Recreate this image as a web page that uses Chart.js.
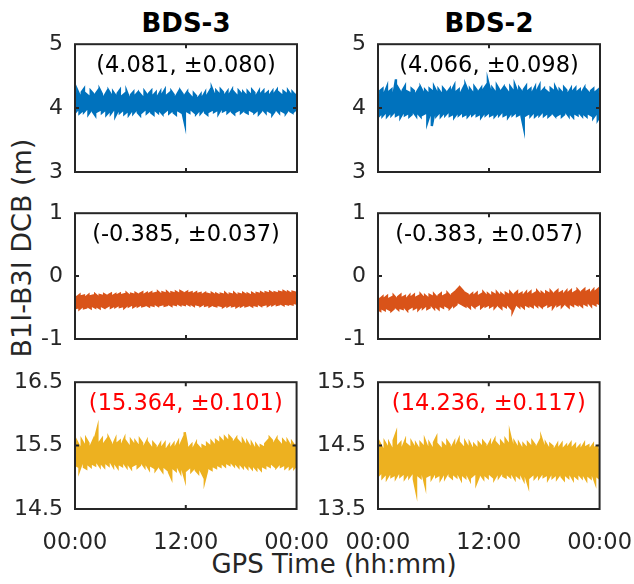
<!DOCTYPE html>
<html>
<head>
<meta charset="utf-8">
<script src="https://cdn.jsdelivr.net/npm/chart.js@4.4.0/dist/chart.umd.min.js"></script>
<style>
  body { margin: 0; background: #fff; }
  #fig { position: relative; width: 634px; height: 584px; overflow: hidden; font-family: 'DejaVu Sans', sans-serif; color: #262626; }
  canvas { position: absolute; }
  .lbl { position: absolute; white-space: nowrap; line-height: 1; transform: translate(-50%, -50%); }
  .title { font-weight: bold; font-size: 26px; color: #000; }
</style>
</head>
<body>
<div id="fig">
  <div class="lbl title" style="left:186px; top:23px;">BDS-3</div>
  <div class="lbl title" style="left:489px; top:23px;">BDS-2</div>
  <div class="lbl" style="left:21px; top:248px; font-size:27px; transform: translate(-50%, -50%) rotate(-90deg);">B1I-B3I DCB (m)</div>
  <div class="lbl" style="left:334px; top:564px; font-size:26px;">GPS Time (hh:mm)</div>
  <canvas id="c1"></canvas>
  <canvas id="c2"></canvas>
  <canvas id="c3"></canvas>
  <canvas id="c4"></canvas>
  <canvas id="c5"></canvas>
  <canvas id="c6"></canvas>
</div>
<script>
// B1I-B3I DCB over one day (hours 0..24).
// Each entry is one time bin: [high, low] of the noisy trace in that bin.
const HOURS = 24;

const bds3Top = [
  [4.24,3.93],[4.28,3.97],[4.20,3.92],[4.25,3.95],[4.30,3.94],[4.22,3.98],[4.19,3.91],[4.27,3.96],[4.23,3.94],[4.21,3.89],
  [4.26,3.95],[4.29,3.97],[4.22,3.93],[4.18,3.96],[4.24,3.90],[4.27,3.94],[4.21,3.92],[4.25,3.97],[4.20,3.88],[4.23,3.95],
  [4.28,3.93],[4.19,3.96],[4.22,3.91],[4.26,3.94],[4.17,3.90],[4.21,3.95],[4.25,3.92],[4.20,3.96],[4.24,3.93],[4.22,3.89],
  [4.18,3.94],[4.26,3.97],[4.21,3.92],[4.23,3.95],[4.27,3.93],[4.20,3.90],[4.24,3.96],[4.19,3.93],[4.25,3.95],[4.22,3.91],
  [4.28,3.94],[4.20,3.97],[4.23,3.92],[4.26,3.95],[4.21,3.93],[4.18,3.90],[4.24,3.96],[4.27,3.94],[4.22,3.92],[4.20,3.76],
  [4.25,3.95],[4.21,3.93],[4.17,3.97],[4.23,3.94],[4.19,3.91],[4.16,3.95],[4.21,3.92],[4.18,3.96],[4.24,3.93],[4.20,3.90],
  [4.26,3.95],[4.31,3.97],[4.22,3.94],[4.27,3.96],[4.23,3.92],[4.29,3.98],[4.25,3.95],[4.21,3.97],[4.26,3.93],[4.22,3.96],
  [4.28,3.94],[4.24,3.91],[4.20,3.95],[4.27,3.97],[4.23,3.93],[4.25,3.96],[4.21,3.94],[4.26,3.92],[4.22,3.97],[4.28,3.95],
  [4.24,3.93],[4.20,3.96],[4.26,3.91],[4.23,3.95],[4.27,3.97],[4.22,3.93],[4.25,3.96],[4.21,3.94],[4.26,3.90],[4.23,3.95],
  [4.28,3.97],[4.24,3.93],[4.21,3.96],[4.26,3.94],[4.23,3.92],[4.27,3.97],[4.22,3.95],[4.25,3.93],[4.21,3.96],[4.24,3.99]
];
const bds2Top = [
  [4.22,3.86],[4.27,3.90],[4.30,3.88],[4.24,3.92],[4.33,3.87],[4.26,3.91],[4.29,3.89],[4.23,3.93],[4.45,3.88],[4.31,3.90],
  [4.25,3.86],[4.28,3.92],[4.34,3.89],[4.26,3.91],[4.24,3.87],[4.30,3.90],[4.27,3.93],[4.23,3.88],[4.29,3.91],[4.32,3.87],
  [4.25,3.90],[4.28,3.92],[4.24,3.78],[4.30,3.89],[4.27,3.72],[4.33,3.90],[4.26,3.88],[4.29,3.92],[4.24,3.87],[4.31,3.91],
  [4.27,3.89],[4.25,3.93],[4.30,3.88],[4.28,3.90],[4.35,3.86],[4.26,3.91],[4.29,3.89],[4.24,3.92],[4.31,3.88],[4.36,3.90],
  [4.27,3.87],[4.30,3.91],[4.25,3.89],[4.33,3.92],[4.28,3.88],[4.26,3.90],[4.31,3.86],[4.29,3.91],[4.34,3.89],[4.42,3.92],
  [4.28,3.88],[4.31,3.90],[4.26,3.87],[4.35,3.91],[4.29,3.89],[4.27,3.93],[4.32,3.88],[4.30,3.90],[4.25,3.86],[4.33,3.91],
  [4.28,3.89],[4.36,3.92],[4.27,3.88],[4.31,3.90],[4.26,3.87],[4.29,3.70],[4.34,3.89],[4.27,3.91],[4.30,3.88],[4.25,3.92],
  [4.32,3.87],[4.28,3.90],[4.35,3.89],[4.26,3.93],[4.30,3.88],[4.27,3.91],[4.24,3.87],[4.31,3.90],[4.28,3.92],[4.33,3.88],
  [4.26,3.89],[4.29,3.91],[4.25,3.87],[4.32,3.90],[4.28,3.93],[4.24,3.88],[4.30,3.90],[4.27,3.86],[4.31,3.91],[4.26,3.89],
  [4.29,3.92],[4.25,3.88],[4.31,3.90],[4.28,3.87],[4.24,3.91],[4.27,3.89],[4.30,3.85],[4.25,3.90],[4.28,3.82],[4.23,3.88]
];
const bds3Mid = [
  [-0.31,-0.51],[-0.33,-0.50],[-0.30,-0.52],[-0.32,-0.49],[-0.31,-0.51],[-0.33,-0.50],[-0.30,-0.49],[-0.32,-0.51],[-0.31,-0.48],[-0.29,-0.50],
  [-0.32,-0.49],[-0.30,-0.51],[-0.31,-0.48],[-0.29,-0.50],[-0.31,-0.49],[-0.30,-0.47],[-0.28,-0.50],[-0.31,-0.48],[-0.29,-0.49],[-0.30,-0.47],
  [-0.28,-0.49],[-0.30,-0.48],[-0.29,-0.50],[-0.27,-0.47],[-0.30,-0.48],[-0.28,-0.46],[-0.29,-0.49],[-0.27,-0.47],[-0.29,-0.48],[-0.28,-0.46],
  [-0.26,-0.48],[-0.29,-0.47],[-0.27,-0.46],[-0.28,-0.48],[-0.26,-0.46],[-0.28,-0.47],[-0.27,-0.45],[-0.25,-0.47],[-0.28,-0.46],[-0.26,-0.45],
  [-0.27,-0.47],[-0.25,-0.46],[-0.28,-0.45],[-0.26,-0.47],[-0.27,-0.45],[-0.25,-0.46],[-0.27,-0.44],[-0.24,-0.46],[-0.26,-0.45],[-0.27,-0.46],
  [-0.25,-0.44],[-0.27,-0.46],[-0.26,-0.45],[-0.28,-0.47],[-0.26,-0.45],[-0.28,-0.46],[-0.27,-0.47],[-0.29,-0.45],[-0.27,-0.47],[-0.28,-0.46],
  [-0.29,-0.48],[-0.27,-0.46],[-0.29,-0.47],[-0.28,-0.48],[-0.30,-0.46],[-0.28,-0.47],[-0.29,-0.49],[-0.27,-0.47],[-0.30,-0.48],[-0.28,-0.46],
  [-0.29,-0.48],[-0.27,-0.47],[-0.30,-0.49],[-0.28,-0.47],[-0.29,-0.48],[-0.27,-0.46],[-0.29,-0.48],[-0.28,-0.47],[-0.30,-0.46],[-0.27,-0.48],
  [-0.29,-0.46],[-0.27,-0.47],[-0.28,-0.45],[-0.26,-0.47],[-0.28,-0.46],[-0.26,-0.45],[-0.27,-0.47],[-0.25,-0.45],[-0.27,-0.46],[-0.26,-0.44],
  [-0.27,-0.46],[-0.25,-0.45],[-0.26,-0.44],[-0.24,-0.46],[-0.26,-0.44],[-0.25,-0.45],[-0.27,-0.44],[-0.25,-0.45],[-0.26,-0.43],[-0.25,-0.44]
];
const bds2Mid = [
  [-0.34,-0.53],[-0.36,-0.55],[-0.33,-0.52],[-0.35,-0.54],[-0.32,-0.51],[-0.36,-0.53],[-0.34,-0.55],[-0.31,-0.52],[-0.35,-0.50],[-0.33,-0.53],
  [-0.30,-0.51],[-0.34,-0.52],[-0.32,-0.50],[-0.35,-0.54],[-0.31,-0.51],[-0.33,-0.49],[-0.30,-0.52],[-0.34,-0.50],[-0.32,-0.53],[-0.29,-0.49],
  [-0.33,-0.51],[-0.31,-0.48],[-0.34,-0.52],[-0.30,-0.50],[-0.32,-0.47],[-0.29,-0.51],[-0.33,-0.49],[-0.31,-0.52],[-0.28,-0.48],[-0.32,-0.50],
  [-0.30,-0.47],[-0.27,-0.49],[-0.31,-0.51],[-0.29,-0.47],[-0.26,-0.48],[-0.23,-0.45],[-0.19,-0.42],[-0.20,-0.44],[-0.24,-0.46],[-0.27,-0.48],
  [-0.29,-0.47],[-0.31,-0.50],[-0.28,-0.46],[-0.30,-0.49],[-0.27,-0.47],[-0.31,-0.45],[-0.29,-0.50],[-0.26,-0.47],[-0.30,-0.48],[-0.28,-0.46],
  [-0.31,-0.49],[-0.27,-0.47],[-0.29,-0.50],[-0.26,-0.46],[-0.30,-0.48],[-0.28,-0.51],[-0.31,-0.47],[-0.27,-0.49],[-0.29,-0.46],[-0.26,-0.50],
  [-0.30,-0.56],[-0.28,-0.48],[-0.25,-0.46],[-0.29,-0.49],[-0.27,-0.47],[-0.30,-0.50],[-0.26,-0.46],[-0.28,-0.48],[-0.25,-0.47],[-0.29,-0.49],
  [-0.27,-0.45],[-0.24,-0.48],[-0.28,-0.46],[-0.26,-0.49],[-0.29,-0.47],[-0.25,-0.45],[-0.27,-0.48],[-0.24,-0.46],[-0.28,-0.50],[-0.26,-0.45],
  [-0.23,-0.47],[-0.27,-0.45],[-0.25,-0.48],[-0.28,-0.44],[-0.24,-0.46],[-0.26,-0.49],[-0.23,-0.45],[-0.27,-0.47],[-0.25,-0.44],[-0.22,-0.46],
  [-0.26,-0.45],[-0.24,-0.48],[-0.21,-0.44],[-0.25,-0.46],[-0.23,-0.43],[-0.26,-0.47],[-0.22,-0.44],[-0.24,-0.46],[-0.21,-0.43],[-0.25,-0.45]
];
const bds3Bot = [
  [15.50,15.20],[15.55,15.18],[15.48,15.12],[15.58,15.22],[15.52,15.16],[15.60,15.14],[15.54,15.20],[15.49,15.17],[15.57,15.21],[15.62,15.19],
  [15.76,15.23],[15.55,15.18],[15.60,15.21],[15.53,15.17],[15.58,15.22],[15.62,15.19],[15.55,15.24],[15.51,15.18],[15.59,15.21],[15.54,15.16],
  [15.57,15.20],[15.52,15.18],[15.60,15.22],[15.55,15.17],[15.50,15.20],[15.58,15.15],[15.53,15.19],[15.56,15.21],[15.51,15.16],[15.59,15.19],
  [15.54,15.22],[15.49,15.17],[15.56,15.20],[15.52,15.14],[15.47,15.18],[15.54,15.16],[15.50,15.12],[15.46,15.17],[15.52,15.15],[15.48,15.10],
  [15.53,15.16],[15.45,15.13],[15.50,15.08],[15.47,15.00],[15.52,15.14],[15.48,15.11],[15.55,15.16],[15.50,15.09],[15.58,15.13],[15.71,15.00],
  [15.52,15.12],[15.47,15.15],[15.51,15.10],[15.46,15.14],[15.53,15.11],[15.49,15.07],[15.45,15.12],[15.50,15.05],[15.48,14.96],[15.53,15.10],
  [15.50,15.14],[15.56,15.12],[15.52,15.17],[15.58,15.15],[15.55,15.19],[15.61,15.17],[15.57,15.21],[15.63,15.18],[15.59,15.22],[15.64,15.20],
  [15.60,15.23],[15.56,15.19],[15.61,15.21],[15.57,15.17],[15.53,15.20],[15.58,15.16],[15.52,15.19],[15.55,15.15],[15.49,15.18],[15.53,15.14],
  [15.47,15.17],[15.51,15.13],[15.46,15.16],[15.50,15.12],[15.48,15.17],[15.53,15.15],[15.57,15.19],[15.62,15.17],[15.58,15.21],[15.54,15.18],
  [15.60,15.16],[15.56,15.20],[15.52,15.17],[15.58,15.19],[15.54,15.15],[15.57,15.18],[15.51,15.14],[15.55,15.17],[15.50,15.15],[15.53,15.19]
];
const bds2Bot = [
  [14.47,14.02],[14.52,14.06],[14.45,14.00],[14.55,14.04],[14.49,13.99],[14.53,14.05],[14.46,14.01],[14.58,14.03],[14.68,14.00],[14.50,14.06],
  [14.54,14.02],[14.47,14.05],[14.56,13.99],[14.51,14.04],[14.48,14.01],[14.55,14.06],[14.49,13.97],[14.52,13.80],[14.46,14.03],[14.54,14.00],
  [14.50,14.05],[14.57,13.90],[14.48,14.02],[14.53,14.04],[14.47,13.99],[14.55,14.05],[14.62,14.01],[14.50,14.03],[14.46,13.98],[14.53,14.04],
  [14.49,14.00],[14.56,14.06],[14.51,14.02],[14.47,13.99],[14.54,14.04],[14.50,14.01],[14.58,14.05],[14.52,13.98],[14.48,14.03],[14.55,14.00],
  [14.49,14.04],[14.53,13.97],[14.46,14.02],[14.51,14.05],[14.47,13.92],[14.54,14.01],[14.50,14.04],[14.56,13.99],[14.52,14.03],[14.48,14.00],
  [14.55,14.05],[14.51,14.02],[14.58,13.98],[14.53,14.04],[14.49,14.01],[14.56,14.06],[14.52,14.02],[14.59,14.00],[14.54,14.04],[14.66,14.01],
  [14.51,14.05],[14.55,13.99],[14.49,14.03],[14.53,14.00],[14.47,14.04],[14.52,13.97],[14.48,14.02],[14.54,13.90],[14.50,14.01],[14.56,14.04],
  [14.51,13.99],[14.48,14.03],[14.55,14.00],[14.61,14.05],[14.50,14.01],[14.53,14.03],[14.47,13.98],[14.52,14.04],[14.49,14.00],[14.45,14.03],
  [14.51,13.99],[14.47,14.04],[14.52,14.01],[14.46,13.97],[14.50,14.03],[14.48,14.00],[14.53,14.04],[14.47,13.98],[14.51,14.02],[14.45,13.99],
  [14.49,14.04],[14.46,14.00],[14.52,14.03],[14.48,13.97],[14.50,14.02],[14.46,13.99],[14.51,14.03],[14.47,13.93],[14.49,14.01],[14.45,13.98]
];

// mean and std shown in each panel
const notes = [
  '(4.081, \u00b10.080)', '(4.066, \u00b10.098)',
  '(-0.385, \u00b10.037)', '(-0.383, \u00b10.057)',
  '(15.364, \u00b10.101)', '(14.236, \u00b10.117)'
];
const yRanges = [[3, 5], [3, 5], [-1, 1], [-1, 1], [14.5, 16.5], [13.5, 15.5]];

const BLUE = '#0072BD', ORANGE = '#D95319', YELLOW = '#EDB120';
Chart.defaults.font.family = "'DejaVu Sans', sans-serif";
Chart.defaults.color = '#262626';

// frame box, inward ticks at the middle values and the stats text
const boxPlugin = {
  id: 'box',
  afterDatasetsDraw(chart, args, opts) {
    const { ctx, chartArea: a, scales } = chart;
    const xm = scales.x.getPixelForValue(HOURS / 2);
    const ym = scales.y.getPixelForValue((scales.y.min + scales.y.max) / 2);
    ctx.save();
    ctx.strokeStyle = '#262626';
    ctx.lineWidth = 2;
    ctx.strokeRect(a.left, a.top, a.right - a.left, a.bottom - a.top);
    ctx.beginPath();
    ctx.moveTo(xm, a.top); ctx.lineTo(xm, a.top + 4);
    ctx.moveTo(xm, a.bottom); ctx.lineTo(xm, a.bottom - 4);
    ctx.moveTo(a.left, ym); ctx.lineTo(a.left + 4, ym);
    ctx.moveTo(a.right, ym); ctx.lineTo(a.right - 4, ym);
    ctx.stroke();
    ctx.fillStyle = opts.color;
    ctx.font = "22.5px 'DejaVu Sans'";
    ctx.textAlign = 'center';
    ctx.textBaseline = 'middle';
    ctx.fillText(opts.text, (a.left + a.right) / 2, a.top + 22);
    ctx.restore();
  }
};

const fmtTime = (v) => (v % HOURS === 0 ? '00' : String(v).padStart(2, '0')) + ':00';

// each bin becomes a vertical stroke; the order snakes high/low so the edges follow the envelope
function toPoints(bins) {
  const pts = [];
  bins.forEach(([hi, lo], i) => {
    const t = i * HOURS / (bins.length - 1);
    if (i % 2 === 0) pts.push({ x: t, y: hi }, { x: t, y: lo });
    else pts.push({ x: t, y: lo }, { x: t, y: hi });
  });
  return pts;
}

function config(bins, color, idx, bottom) {
  return {
    type: 'line',
    data: { datasets: [{ data: toPoints(bins), borderColor: color, borderWidth: 2.4, pointRadius: 0, tension: 0 }] },
    options: {
      responsive: false,
      maintainAspectRatio: false,
      animation: false,
      layout: { padding: { top: 4, right: 36, bottom: 4, left: 0 } },
      plugins: {
        legend: { display: false },
        tooltip: { enabled: false },
        box: { text: notes[idx], color: bottom ? '#FF0000' : '#000' }
      },
      scales: {
        x: {
          type: 'linear', min: 0, max: HOURS,
          display: bottom,
          grid: { display: false, drawTicks: false, tickLength: 0 },
          border: { display: false },
          ticks: { stepSize: 12, autoSkip: false, maxRotation: 0, padding: 21, font: { size: 22.5 }, callback: fmtTime },
          afterFit: (s) => { s.height = 56; }
        },
        y: {
          min: yRanges[idx][0], max: yRanges[idx][1],
          grid: { display: false, drawTicks: false, tickLength: 0 },
          border: { display: false },
          ticks: { stepSize: 1, padding: 12, font: { size: 22 }, callback: (v) => String(v) },
          afterFit: (s) => { s.width = 75; }
        }
      }
    },
    plugins: [boxPlugin]
  };
}

// place each panel so its plot area lands on the given box
function makePanel(id, left, top, plotW, plotH, bins, color, idx, bottom) {
  const el = document.getElementById(id);
  el.width = 400; el.height = 280;
  let ch = new Chart(el, config(bins, color, idx, bottom));
  const a = ch.chartArea;
  const offL = a.left, offT = a.top;
  const offR = el.width - a.right, offB = el.height - a.bottom;
  ch.destroy();
  el.width = offL + plotW + offR;
  el.height = offT + plotH + offB;
  el.style.left = (left - offL) + 'px';
  el.style.top = (top - offT) + 'px';
  return new Chart(el, config(bins, color, idx, bottom));
}

makePanel('c1', 75, 44, 222, 128, bds3Top, BLUE, 0, false);
makePanel('c2', 378, 44, 222, 128, bds2Top, BLUE, 1, false);
makePanel('c3', 75, 213, 222, 126, bds3Mid, ORANGE, 2, false);
makePanel('c4', 378, 213, 222, 126, bds2Mid, ORANGE, 3, false);
makePanel('c5', 75, 382, 222, 127, bds3Bot, YELLOW, 4, true);
makePanel('c6', 378, 382, 222, 127, bds2Bot, YELLOW, 5, true);
</script>
</body>
</html>
